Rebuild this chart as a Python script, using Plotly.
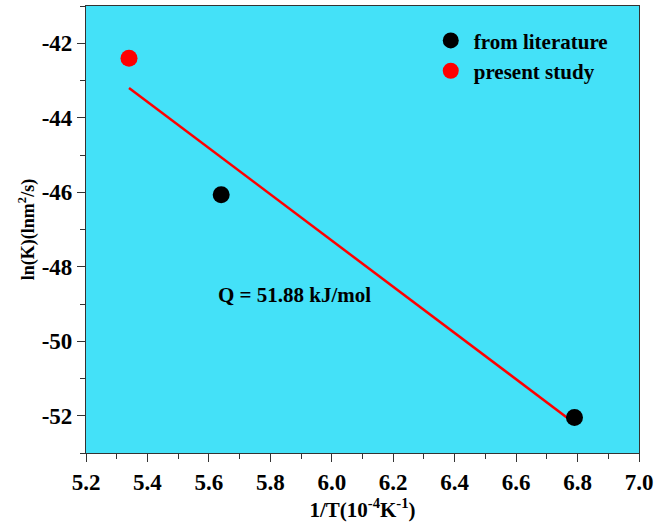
import plotly.graph_objects as go

lit_x = [5.64, 6.79]
lit_y = [-46.07, -52.05]
present_x = [5.34]
present_y = [-42.40]
fit_x = [5.34, 6.79]
fit_y = [-43.20, -52.20]
y_tick_vals = [-52, -50, -48, -46, -44, -42]
y_tick_text = ["-52", "-50", "-48", "-46", "-44", "-42"]
annotation_text = "Q = 51.88 kJ/mol"

FONT = "Liberation Serif"
BG = "rgb(68,225,248)"

fig = go.Figure()
fig.add_trace(go.Scatter(x=fit_x, y=fit_y, mode="lines", line=dict(color="red", width=2.5),
                         showlegend=False, hoverinfo="skip"))
fig.add_trace(go.Scatter(x=lit_x, y=lit_y, mode="markers", name="from literature",
                         marker=dict(color="black", size=17)))
fig.add_trace(go.Scatter(x=present_x, y=present_y, mode="markers", name="present study",
                         marker=dict(color="red", size=17)))

fig.add_annotation(x=5.88, y=-48.75, text=annotation_text, showarrow=False,
                   font=dict(family=FONT, size=21, color="black", weight="bold"))

axis_common = dict(showline=True, linecolor="#333", linewidth=1.2, mirror=True,
                   ticks="outside", ticklen=8, tickcolor="#333", showgrid=False, zeroline=False,
                   tickfont=dict(family=FONT, size=23, color="black", weight="bold"))

fig.update_xaxes(range=[5.2, 7.0], dtick=0.2, tickformat=".1f",
                 minor=dict(dtick=0.1, ticks="outside", ticklen=5, tickcolor="#333"),
                 title=dict(text="1/T(10<sup>-4</sup>K<sup>-1</sup>)", standoff=4,
                            font=dict(family=FONT, size=21, color="black", weight="bold")),
                 **axis_common)
fig.update_yaxes(range=[-53, -41], tickvals=y_tick_vals, ticktext=y_tick_text,
                 minor=dict(dtick=1, ticks="outside", ticklen=5, tickcolor="#333"),
                 title=dict(text="ln(K)(lnm<sup>2</sup>/s)", standoff=2,
                            font=dict(family=FONT, size=18, color="black", weight="bold")),
                 **axis_common)

fig.update_layout(
    width=668, height=524,
    margin=dict(l=86, r=29, t=6, b=71),
    plot_bgcolor=BG, paper_bgcolor="white",
    legend=dict(x=0.618, y=0.968, xanchor="left", yanchor="top", bgcolor="rgba(0,0,0,0)",
                font=dict(family=FONT, size=21, color="black", weight="bold"),
                itemwidth=36, tracegroupgap=2),
)

fig.write_html("out.html", config={"displayModeBar": False},
               post_script="document.body.style.margin='0';")
